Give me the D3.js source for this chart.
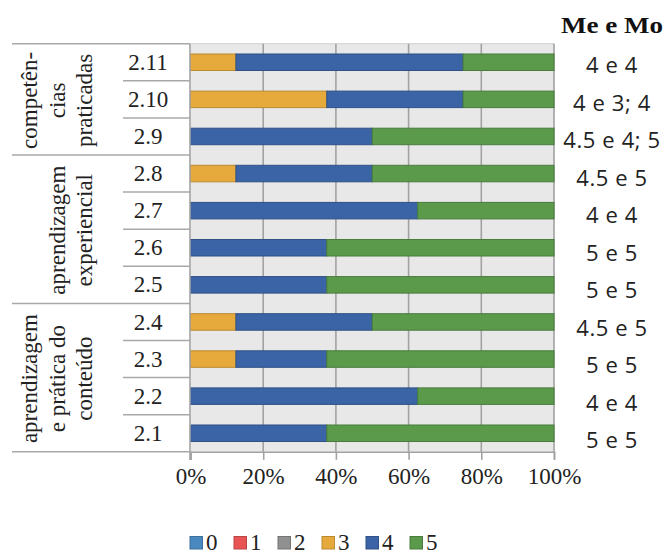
<!DOCTYPE html>
<html>
<head>
<meta charset="utf-8">
<script src="https://cdn.jsdelivr.net/npm/d3@7"></script>
<style>
  html, body { margin: 0; padding: 0; background: #fff; }
  svg { display: block; }
</style>
</head>
<body>
<svg id="chart" width="665" height="554"></svg>
<script>
// ---- data ----
const categories = ["2.11","2.10","2.9","2.8","2.7","2.6","2.5","2.4","2.3","2.2","2.1"];
const seriesKeys = ["0","1","2","3","4","5"];
const s0 = [0,0,0,0,0,0,0,0,0,0,0];
const s1 = [0,0,0,0,0,0,0,0,0,0,0];
const s2 = [0,0,0,0,0,0,0,0,0,0,0];
const s3 = [12.5,37.5,0,12.5,0,0,0,12.5,12.5,0,0];
const s4 = [62.5,37.5,50,37.5,62.5,37.5,37.5,37.5,25,62.5,37.5];
const s5 = [25,25,50,50,37.5,62.5,62.5,50,62.5,37.5,62.5];
const meMo = ["4 e 4","4 e 3; 4","4.5 e 4; 5","4.5 e 5","4 e 4","5 e 5","5 e 5","4.5 e 5","5 e 5","4 e 4","5 e 5"];
const groupLabels = [["competên-","cias","praticadas"],["aprendizagem","experiencial"],["aprendizagem","e prática do","conteúdo"]];
const groupFirst = ["2.11","2.8","2.4"];
const groupLast  = ["2.9","2.5","2.1"];
const xTicks = [0,20,40,60,80,100];
const meMoTitle = "Me e Mo";

// ---- styles ----
const colors = {"0":"#4a89bf","1":"#e85454","2":"#909090","3":"#e6aa3c","4":"#3a64a6","5":"#5b9a4b"};
const serif = "'Liberation Serif','Times New Roman',serif";
const sans = "'Open Sans','Noto Sans',sans-serif";

const svg = d3.select("#chart");
const table = categories.map((c,i)=>({cat:c,"0":s0[i],"1":s1[i],"2":s2[i],"3":s3[i],"4":s4[i],"5":s5[i]}));

const x = d3.scaleLinear().domain([0,100]).range([190.5,554]);
const y = d3.scaleBand().domain(categories).range([43.7,451.8]).paddingInner(0.555).paddingOuter(0.2775);
const step = y.step();
const plotTop = 43.7, plotBottom = 451.8;
const slotStart = c => y(c) - step*y.paddingOuter();

// plot background
svg.append("rect").attr("x",x(0)).attr("y",plotTop).attr("width",x(100)-x(0)).attr("height",plotBottom-plotTop).attr("fill","#e8e8e8");
svg.append("line").attr("x1",x(0)).attr("x2",x(100)).attr("y1",plotTop).attr("y2",plotTop).attr("stroke","#d0d0d0").attr("stroke-width",1);

// vertical gridlines
svg.append("g").selectAll("line").data(xTicks.filter(t=>t>0)).join("line")
  .attr("x1",d=>x(d)).attr("x2",d=>x(d)).attr("y1",plotTop).attr("y2",plotBottom)
  .attr("stroke","#a2a2a2").attr("stroke-width",1.6);

// bars
const stack = d3.stack().keys(seriesKeys)(table);
svg.append("g").selectAll("g").data(stack).join("g")
  .attr("fill",d=>colors[d.key])
  .attr("stroke",d=>d3.color(colors[d.key]).darker(0.6))
  .selectAll("rect").data(d=>d.filter(v=>v[1]-v[0]>0)).join("rect")
  .attr("x",d=>x(d[0])).attr("width",d=>x(d[1])-x(d[0]))
  .attr("y",d=>y(d.data.cat)).attr("height",y.bandwidth())
  .attr("stroke-width",1);

// x axis
const xAxis = d3.axisBottom(x).tickValues(xTicks).tickFormat(d=>d+"%").tickSize(8).tickPadding(12);
const gx = svg.append("g").attr("transform",`translate(0,${plotBottom})`).call(xAxis);
gx.select(".domain").attr("stroke","#a2a2a2").attr("stroke-width",1.6);
gx.selectAll(".tick line").attr("stroke","#a2a2a2").attr("stroke-width",1.6);
gx.selectAll(".tick text").attr("font-family",serif).attr("font-size",23).attr("fill","#222").attr("dy","0.55em");

// left axis line
svg.append("line").attr("x1",190).attr("x2",190).attr("y1",plotTop).attr("y2",460).attr("stroke","#a2a2a2").attr("stroke-width",1.6);

// table lines
const tl = svg.append("g").attr("stroke","#a8a8a8").attr("stroke-width",1.5);
tl.append("line").attr("x1",12).attr("x2",190).attr("y1",plotTop).attr("y2",plotTop);
groupLast.forEach(c=>{
  const yy = slotStart(c) + step;
  tl.append("line").attr("x1",12).attr("x2",190).attr("y1",yy).attr("y2",yy);
});
categories.forEach(c=>{
  if (groupLast.includes(c)) return;
  const yy = slotStart(c) + step;
  tl.append("line").attr("x1",123).attr("x2",190).attr("y1",yy).attr("y2",yy);
});

// category labels
svg.append("g").selectAll("text").data(categories).join("text")
  .attr("x",148).attr("y",d=>y(d)+y.bandwidth()/2+7.6)
  .attr("text-anchor","middle").attr("font-family",serif).attr("font-size",23).attr("fill","#222")
  .text(d=>d);

// group labels (rotated)
const baseX = [37,65,92];
groupLabels.forEach((lines,gi)=>{
  const y0 = slotStart(groupFirst[gi]);
  const y1 = slotStart(groupLast[gi]) + step;
  const cy = (y0+y1)/2 + 1;
  const xs = lines.length===3 ? baseX : baseX.slice(1);
  lines.forEach((t,li)=>{
    svg.append("text")
      .attr("transform",`translate(${xs[li]},${cy}) rotate(-90)`)
      .attr("text-anchor","middle").attr("font-family",serif).attr("font-size",23).attr("fill","#222")
      .text(t);
  });
});

// Me e Mo column
svg.append("text").attr("x",612).attr("y",33.3).attr("text-anchor","middle")
  .attr("font-family",serif).attr("font-weight","bold").attr("font-size",24).attr("fill","#111")
  .attr("textLength",102).attr("lengthAdjust","spacingAndGlyphs").text(meMoTitle);
svg.append("g").selectAll("text").data(meMo).join("text")
  .attr("x",612).attr("y",(d,i)=>65+37.5*i+8)
  .attr("text-anchor","middle").attr("font-family",sans).attr("font-size",22)
  .attr("letter-spacing","0.6px").attr("fill","#222")
  .text(d=>d);

// legend
const lg = svg.append("g").selectAll("g").data(seriesKeys).join("g")
  .attr("transform",(d,i)=>`translate(${190+44*i},536.5)`);
lg.append("rect").attr("width",12.5).attr("height",12.5)
  .attr("fill",d=>colors[d]).attr("stroke",d=>d3.color(colors[d]).darker(0.6)).attr("stroke-width",1);
lg.append("text").attr("x",16).attr("y",13.5).attr("font-family",serif).attr("font-size",23).attr("fill","#222").text(d=>d);
</script>
</body>
</html>
